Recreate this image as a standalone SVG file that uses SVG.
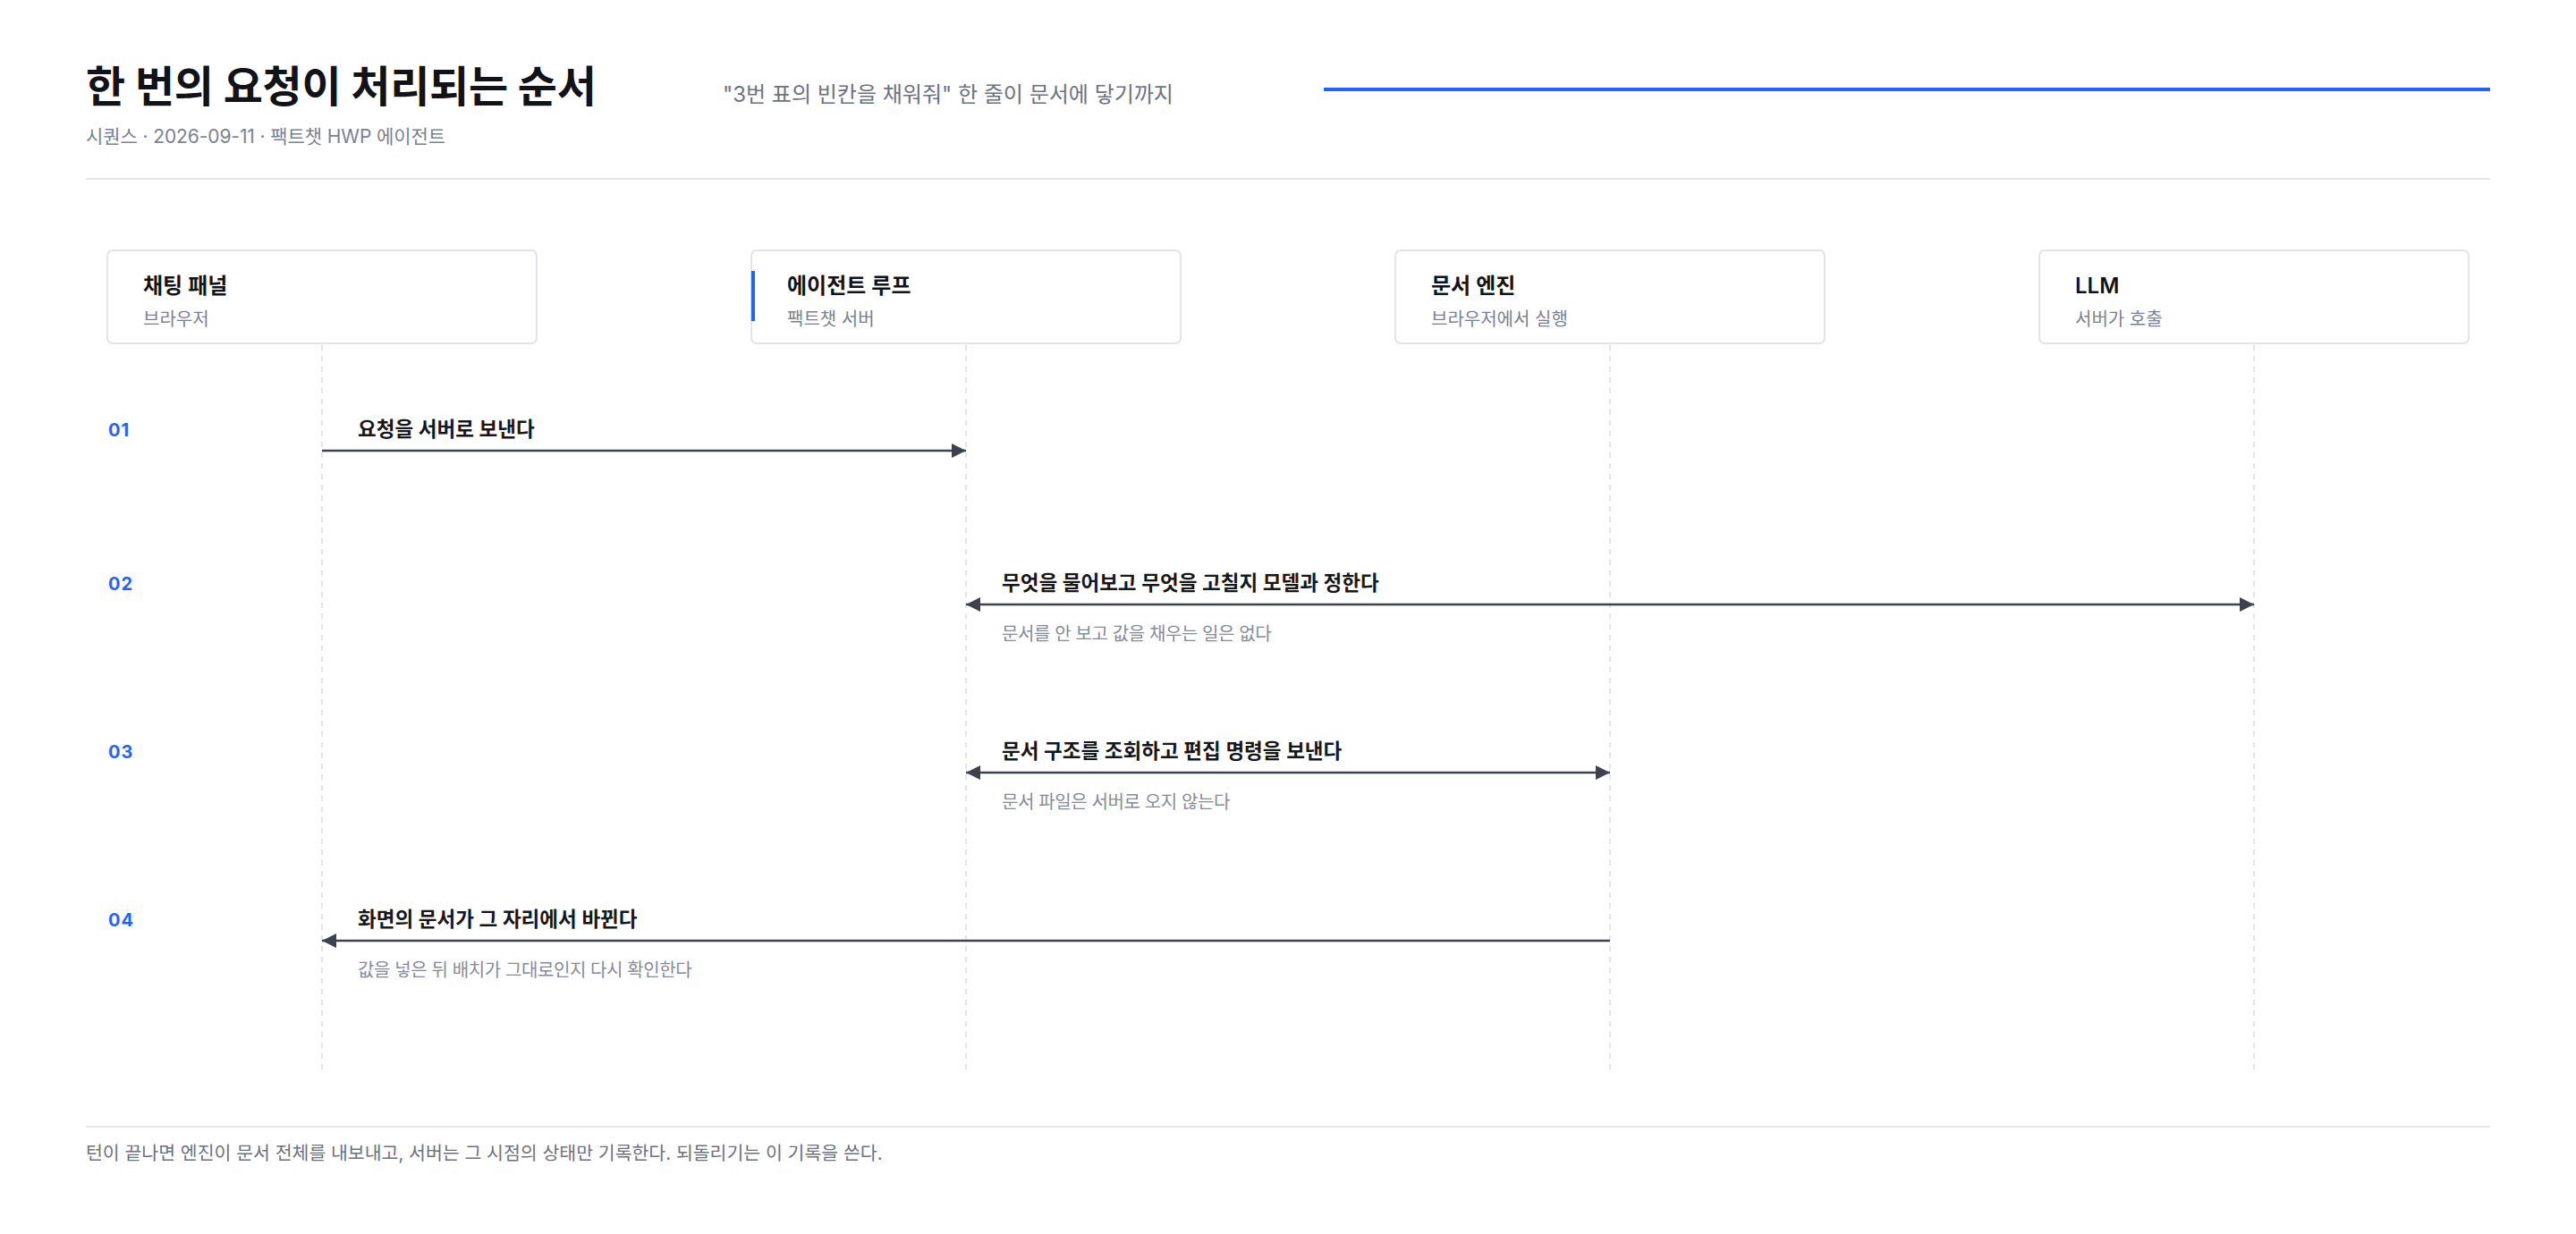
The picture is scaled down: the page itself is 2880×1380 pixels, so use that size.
<svg xmlns="http://www.w3.org/2000/svg" width="2880" height="1380" viewBox="0 0 2880 1380">
  <style>
    text { font-family: Inter, "Noto Sans CJK KR", "Noto Sans", sans-serif; }
    .title { font-size: 48px; font-weight: 700; fill: #111318; letter-spacing: -0.3px; }
    .subtitle { font-size: 24px; font-weight: 400; fill: #6b7280; }
    .meta { font-size: 21px; fill: #7a8191; letter-spacing: -0.1px; }
    .box { fill: #ffffff; stroke: #e0e4ea; stroke-width: 2; }
    .btitle { font-size: 24px; font-weight: 600; fill: #111318; }
    .bsub { font-size: 20px; fill: #7a8191; }
    .life { stroke: #e1e4ea; stroke-width: 2; stroke-dasharray: 6 6; fill: none; }
    .msg { stroke: #3c4250; stroke-width: 2.5; fill: none; }
    .mlabel { font-size: 22.5px; font-weight: 600; fill: #15171c; }
    .note { font-size: 20px; fill: #858b98; letter-spacing: -0.4px; }
    .step { font-size: 20px; font-weight: 700; fill: #1e64ff; letter-spacing: 1px; }
    .rule { stroke: #e3e6eb; stroke-width: 2; }
    .footer { font-size: 20.5px; fill: #6b7280; }
  </style>
  <defs>
    <marker id="arrow" viewBox="0 0 16 16" refX="16" refY="8" markerWidth="16" markerHeight="16" markerUnits="userSpaceOnUse" orient="auto-start-reverse">
      <path d="M0,0 L16,8 L0,16 z" fill="#3c4250"/>
    </marker>
  </defs>
  <rect width="2880" height="1380" fill="#ffffff"/>

  <g id="header">
    <text class="title" x="96" y="114">한 번의 요청이 처리되는 순서</text>
    <text class="subtitle" x="808" y="114">"3번 표의 빈칸을 채워줘" 한 줄이 문서에 닿기까지</text>
    <text class="meta" x="96" y="160">시퀀스 · 2026-09-11 · 팩트챗 HWP 에이전트</text>
    <line x1="1480" y1="100" x2="2784" y2="100" stroke="#1e64ff" stroke-width="4"/>
    <line class="rule" x1="96" y1="200" x2="2784" y2="200"/>
  </g>

  <g id="lifelines">
    <line class="life" x1="360" y1="386" x2="360" y2="1200"/>
    <line class="life" x1="1080" y1="386" x2="1080" y2="1200"/>
    <line class="life" x1="1800" y1="386" x2="1800" y2="1200"/>
    <line class="life" x1="2520" y1="386" x2="2520" y2="1200"/>
  </g>

  <g id="node-chat">
    <rect class="box" x="120" y="280" width="480" height="104" rx="6"/>
    <text class="btitle" x="160" y="328">채팅 패널</text>
    <text class="bsub" x="160" y="364">브라우저</text>
  </g>
  <g id="node-agent">
    <rect class="box" x="840" y="280" width="480" height="104" rx="6"/>
    <rect x="840" y="303" width="4" height="56" fill="#1e64ff"/>
    <text class="btitle" x="880" y="328">에이전트 루프</text>
    <text class="bsub" x="880" y="364">팩트챗 서버</text>
  </g>
  <g id="node-engine">
    <rect class="box" x="1560" y="280" width="480" height="104" rx="6"/>
    <text class="btitle" x="1600" y="328">문서 엔진</text>
    <text class="bsub" x="1600" y="364">브라우저에서 실행</text>
  </g>
  <g id="node-llm">
    <rect class="box" x="2280" y="280" width="480" height="104" rx="6"/>
    <text class="btitle" x="2320" y="328">LLM</text>
    <text class="bsub" x="2320" y="364">서버가 호출</text>
  </g>

  <g id="connectors">
    <g id="msg-01">
      <text class="step" x="121" y="488">01</text>
      <line class="msg" x1="360" y1="504" x2="1080" y2="504" marker-end="url(#arrow)"/>
      <text class="mlabel" x="400" y="488">요청을 서버로 보낸다</text>
    </g>
    <g id="msg-02">
      <text class="step" x="121" y="660">02</text>
      <line class="msg" x1="1080" y1="676" x2="2520" y2="676" marker-start="url(#arrow)" marker-end="url(#arrow)"/>
      <text class="mlabel" x="1120" y="660">무엇을 물어보고 무엇을 고칠지 모델과 정한다</text>
      <text class="note" x="1120" y="716">문서를 안 보고 값을 채우는 일은 없다</text>
    </g>
    <g id="msg-03">
      <text class="step" x="121" y="848">03</text>
      <line class="msg" x1="1080" y1="864" x2="1800" y2="864" marker-start="url(#arrow)" marker-end="url(#arrow)"/>
      <text class="mlabel" x="1120" y="848">문서 구조를 조회하고 편집 명령을 보낸다</text>
      <text class="note" x="1120" y="904">문서 파일은 서버로 오지 않는다</text>
    </g>
    <g id="msg-04">
      <text class="step" x="121" y="1036">04</text>
      <line class="msg" x1="1800" y1="1052" x2="360" y2="1052" marker-end="url(#arrow)"/>
      <text class="mlabel" x="400" y="1036">화면의 문서가 그 자리에서 바뀐다</text>
      <text class="note" x="400" y="1092">값을 넣은 뒤 배치가 그대로인지 다시 확인한다</text>
    </g>
  </g>

  <g id="footer">
    <line class="rule" x1="96" y1="1260" x2="2784" y2="1260"/>
    <text class="footer" x="96" y="1297">턴이 끝나면 엔진이 문서 전체를 내보내고, 서버는 그 시점의 상태만 기록한다. 되돌리기는 이 기록을 쓴다.</text>
  </g>
</svg>
